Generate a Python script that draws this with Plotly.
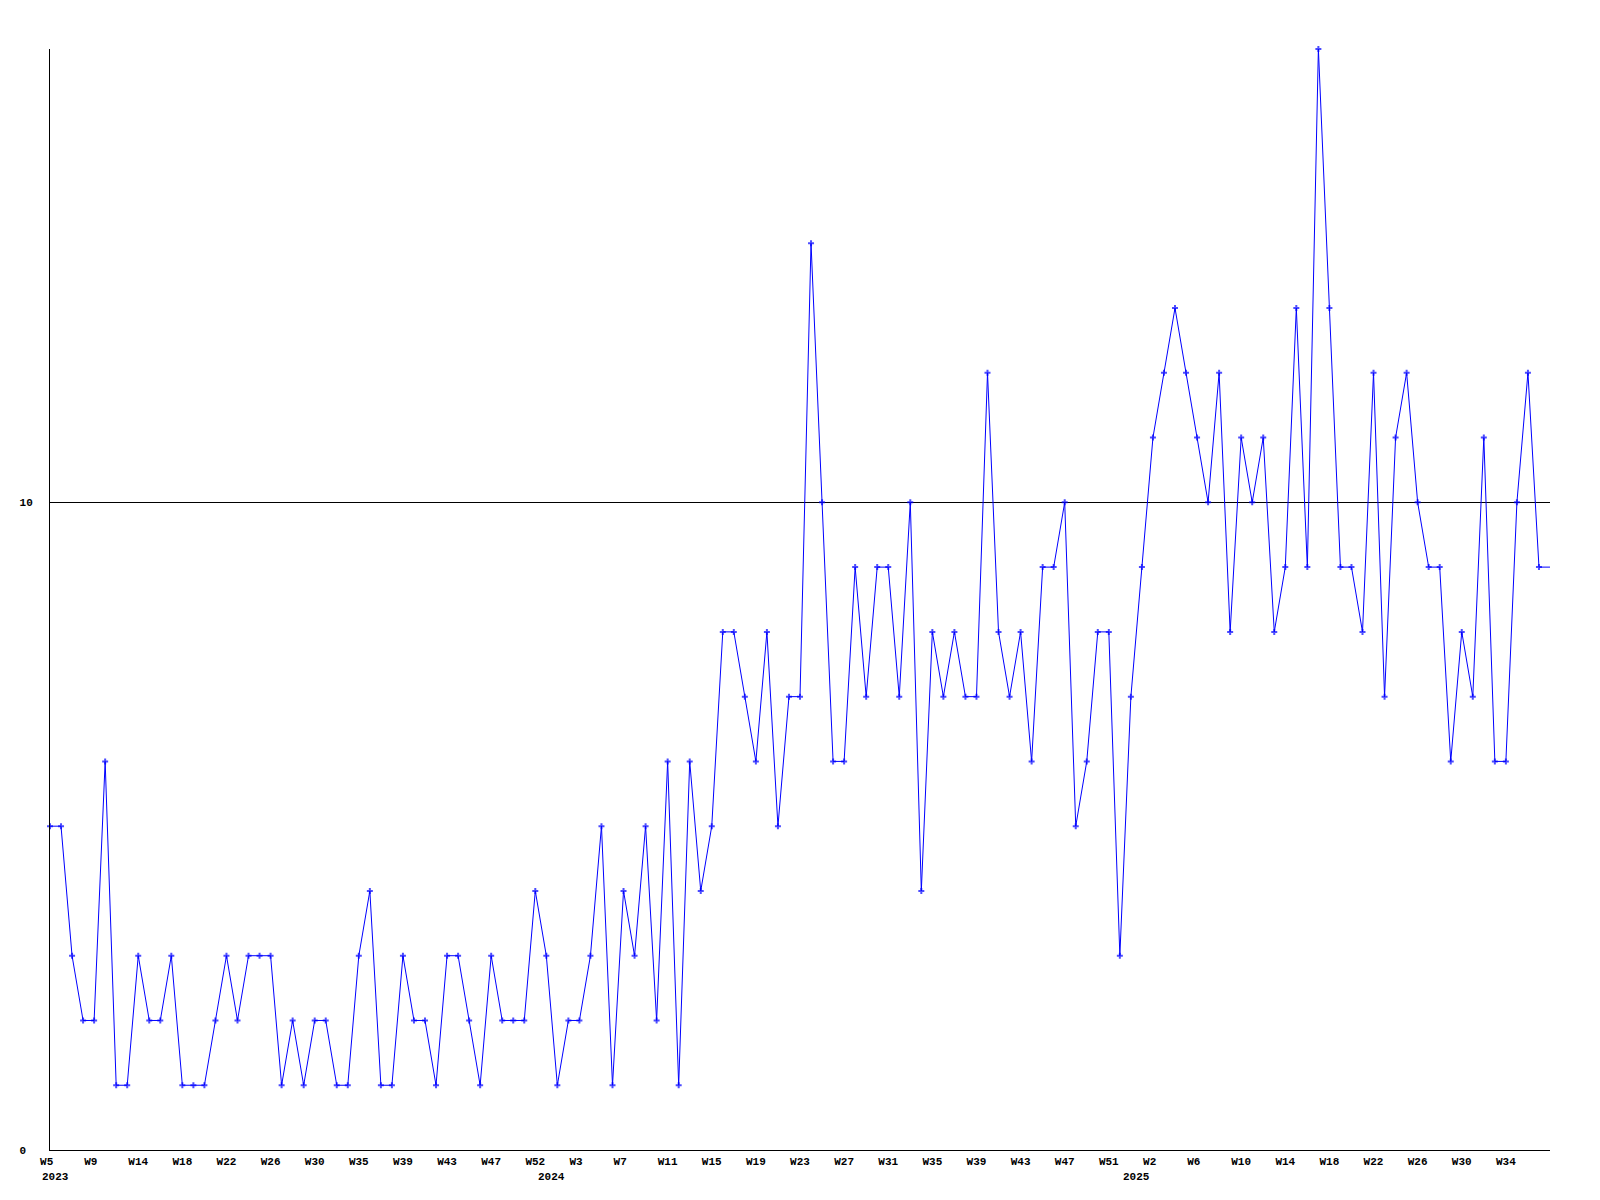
import plotly.graph_objects as go

# Weekly values, 2023 W5 .. 2025 (one per week)
values = [
    5, 5, 3, 2, 2, 6, 1, 1, 3, 2, 2, 3, 1, 1, 1, 2, 3, 2, 3, 3, 3, 1, 2, 1, 2, 2, 1, 1, 3, 4, 1, 1, 3, 2, 2, 1,
    3, 3, 2, 1, 3, 2, 2, 2, 4, 3, 1, 2, 2, 3, 5, 1, 4, 3, 5, 2, 6, 1, 6, 4, 5,
    8, 8, 7, 6, 8, 5, 7, 7, 14, 10, 6, 6, 9, 7, 9, 9, 7, 10, 4, 8, 7, 8, 7, 7, 12,
    8, 7, 8, 6, 9, 9, 10, 5, 6, 8, 8, 3, 7, 9, 11, 12, 13, 12, 11, 10, 12, 8, 11, 10, 11, 8, 9,
    13, 9, 17, 13, 9, 9, 8, 12, 7, 11, 12, 10, 9, 9, 6, 8, 7, 11, 6, 6, 10, 12, 9,
    9,
]
weeks = list(range(len(values)))

week_labels = [
    "W5", "W9", "W14", "W18", "W22", "W26", "W30", "W35", "W39", "W43", "W47", "W52",
    "W3", "W7", "W11", "W15", "W19", "W23", "W27", "W31", "W35", "W39", "W43", "W47", "W51",
    "W2", "W6", "W10", "W14", "W18", "W22", "W26", "W30", "W34",
]
years = ["2023", "2024", "2025"]
year_start_week = [0, 45, 98]

y_ticks = [0, 10]

FONT = "Liberation Mono, DejaVu Sans Mono, monospace"
NBSP = "\u00a0"

tick_pos = [4 * i for i in range(len(week_labels))]
tick_text = [lbl if len(lbl) >= 3 else lbl + NBSP for lbl in week_labels]

marker_sizes = [5] * (len(values) - 1) + [0]

fig = go.Figure()
fig.add_trace(go.Scatter(
    x=weeks, y=values, mode="lines+markers",
    line=dict(color="#0000FF", width=1),
    marker=dict(symbol="cross", size=marker_sizes, color="#0000FF",
                line=dict(width=0)),
    cliponaxis=False, showlegend=False,
))

annotations = []
for yr, pos in zip(years, year_start_week):
    annotations.append(dict(
        x=pos, y=0, xref="x", yref="paper", text=yr, showarrow=False,
        xanchor="left", yanchor="middle", xshift=-10, yshift=-27,
        font=dict(family=FONT, size=11, color="black", weight="bold"),
    ))

fig.update_layout(
    width=1592, height=1192,
    margin=dict(l=42, r=50, t=41, b=50),
    paper_bgcolor="white", plot_bgcolor="white",
    font=dict(family=FONT, size=11, color="black", weight="bold"),
    annotations=annotations,
    xaxis=dict(
        range=[0, len(values) - 1],
        tickmode="array", tickvals=tick_pos, ticktext=tick_text,
        showgrid=False, zeroline=False,
        showline=True, linecolor="black", linewidth=1,
        ticks="outside", ticklen=1, tickcolor="rgba(0,0,0,0)",
        tickangle=0,
        tickfont=dict(family=FONT, size=11, color="black", weight="bold"),
    ),
    yaxis=dict(
        range=[0, 17],
        tickmode="array", tickvals=y_ticks,
        ticktext=[str(v) + NBSP if v < 10 else str(v) for v in y_ticks],
        showgrid=True, gridcolor="black", gridwidth=1,
        zeroline=False,
        showline=True, linecolor="black", linewidth=1,
        ticks="outside", ticklen=14, tickcolor="rgba(0,0,0,0)",
        tickfont=dict(family=FONT, size=11, color="black", weight="bold"),
    ),
)

fig.write_html("out.html")
